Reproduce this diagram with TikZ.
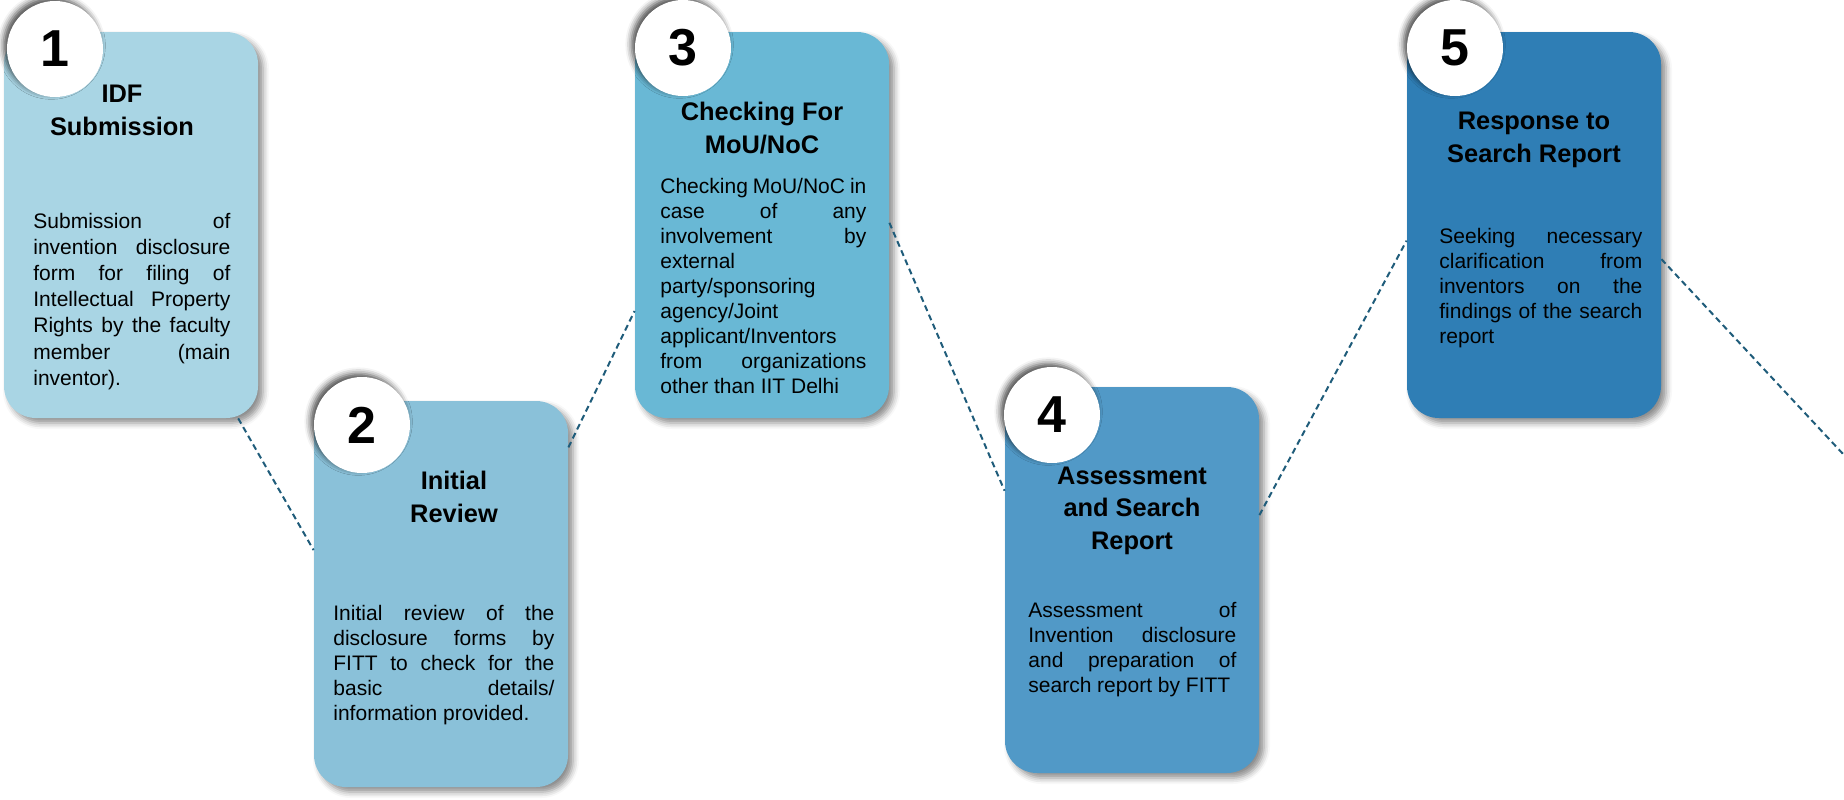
\documentclass[tikz,border=0pt]{standalone}
\usepackage{fontspec}
\setmainfont{Liberation Sans}
\usepackage{tikz}
\usetikzlibrary{shadows.blur}
\definecolor{cardA}{HTML}{A9D5E4}
\definecolor{cardB}{HTML}{8AC1D9}
\definecolor{cardC}{HTML}{69B8D5}
\definecolor{cardD}{HTML}{5199C7}
\definecolor{cardE}{HTML}{2F7EB5}
\definecolor{linkc}{HTML}{1F5C7A}
\hbadness=10000

\begin{document}
\begin{tikzpicture}[x=0.5pt,y=-0.5pt,
  card/.style={rectangle,rounded corners=16pt,minimum width=127pt,minimum height=193pt,inner sep=0pt,
    blur shadow={shadow xshift=2.5pt,shadow yshift=-2.5pt,shadow blur radius=3pt,shadow opacity=45}},
  disc/.style={circle,fill=white,minimum size=48pt,inner sep=0pt,font=\fontsize{26}{26}\selectfont\bfseries,
    blur shadow={shadow xshift=-1.8pt,shadow yshift=1.8pt,shadow blur radius=3pt,shadow opacity=70}},
  head/.style={anchor=base,align=center,inner sep=0pt,font=\fontsize{12.7}{16.2}\selectfont\bfseries},
  desc/.style={anchor=base west,align=justify,inner sep=0pt,font=\fontsize{10.5}{12.5}\selectfont},
  link/.style={draw=linkc,line width=1pt,dash pattern=on 3pt off 2pt}]
  \useasboundingbox (0,0) rectangle (1844,799);
  % cards
  \node[card,fill=cardA] (b1) at (131,225) {};
  \node[card,fill=cardB] (b2) at (441,594) {};
  \node[card,fill=cardC] (b3) at (762,225) {};
  \node[card,fill=cardD] (b4) at (1132,580) {};
  \node[card,fill=cardE] (b5) at (1534,225) {};
  % step numbers
  \node[disc] (n1) at (55,49) {1};
  \node[disc] (n2) at (362,425) {2};
  \node[disc] (n3) at (683,48) {3};
  \node[disc] (n4) at (1052,415) {4};
  \node[disc] (n5) at (1455,48) {5};
  % headings (placed at the baseline of their last line)
  \node[head] (h1) at (122,135) {IDF\\Submission};
  \node[head] (h2) at (454,522) {Initial\\Review};
  \node[head] (h3) at (762,153) {Checking For\\MoU/NoC};
  \node[head] (h4) at (1132,549) {Assessment\\and Search\\Report};
  \node[head] (h5) at (1534,162) {Response to\\Search Report};
  % descriptions
  \node[desc,text width=98.5pt,font=\fontsize{10.5}{13.1}\selectfont] (d1) at (33,228)
    {Submission of\linebreak invention disclosure\linebreak form for filing of\linebreak Intellectual Property\linebreak Rights by the faculty\linebreak member (main\linebreak inventor).};
  \node[desc,text width=110.5pt] (d2) at (333,620)
    {Initial review of the\linebreak disclosure forms by\linebreak FITT to check for the\linebreak basic details/\linebreak information provided.};
  \node[desc,text width=103pt] (d3) at (660,193)
    {Checking MoU/NoC in\linebreak case of any\linebreak involvement by\linebreak external\linebreak party/sponsoring\linebreak agency/Joint\linebreak applicant/Inventors\linebreak from organizations\linebreak other than IIT Delhi};
  \node[desc,text width=104pt] (d4) at (1028,617)
    {Assessment of\linebreak Invention disclosure\linebreak and preparation of\linebreak search report by FITT};
  \node[desc,text width=101.5pt] (d5) at (1439,243)
    {Seeking necessary\linebreak clarification from\linebreak inventors on the\linebreak findings of the search\linebreak report};
  % dashed links between steps
  \coordinate (exit) at (1844,455);
  \draw[link] (b1.-61) -- (b2.161);
  \draw[link] (b2.49) -- (b3.214);
  \draw[link] (b3.1) -- (b4.145);
  \draw[link] (b4.27) -- (b5.187);
  \draw[link] (b5.-15) -- (exit);
\end{tikzpicture}
\end{document}
